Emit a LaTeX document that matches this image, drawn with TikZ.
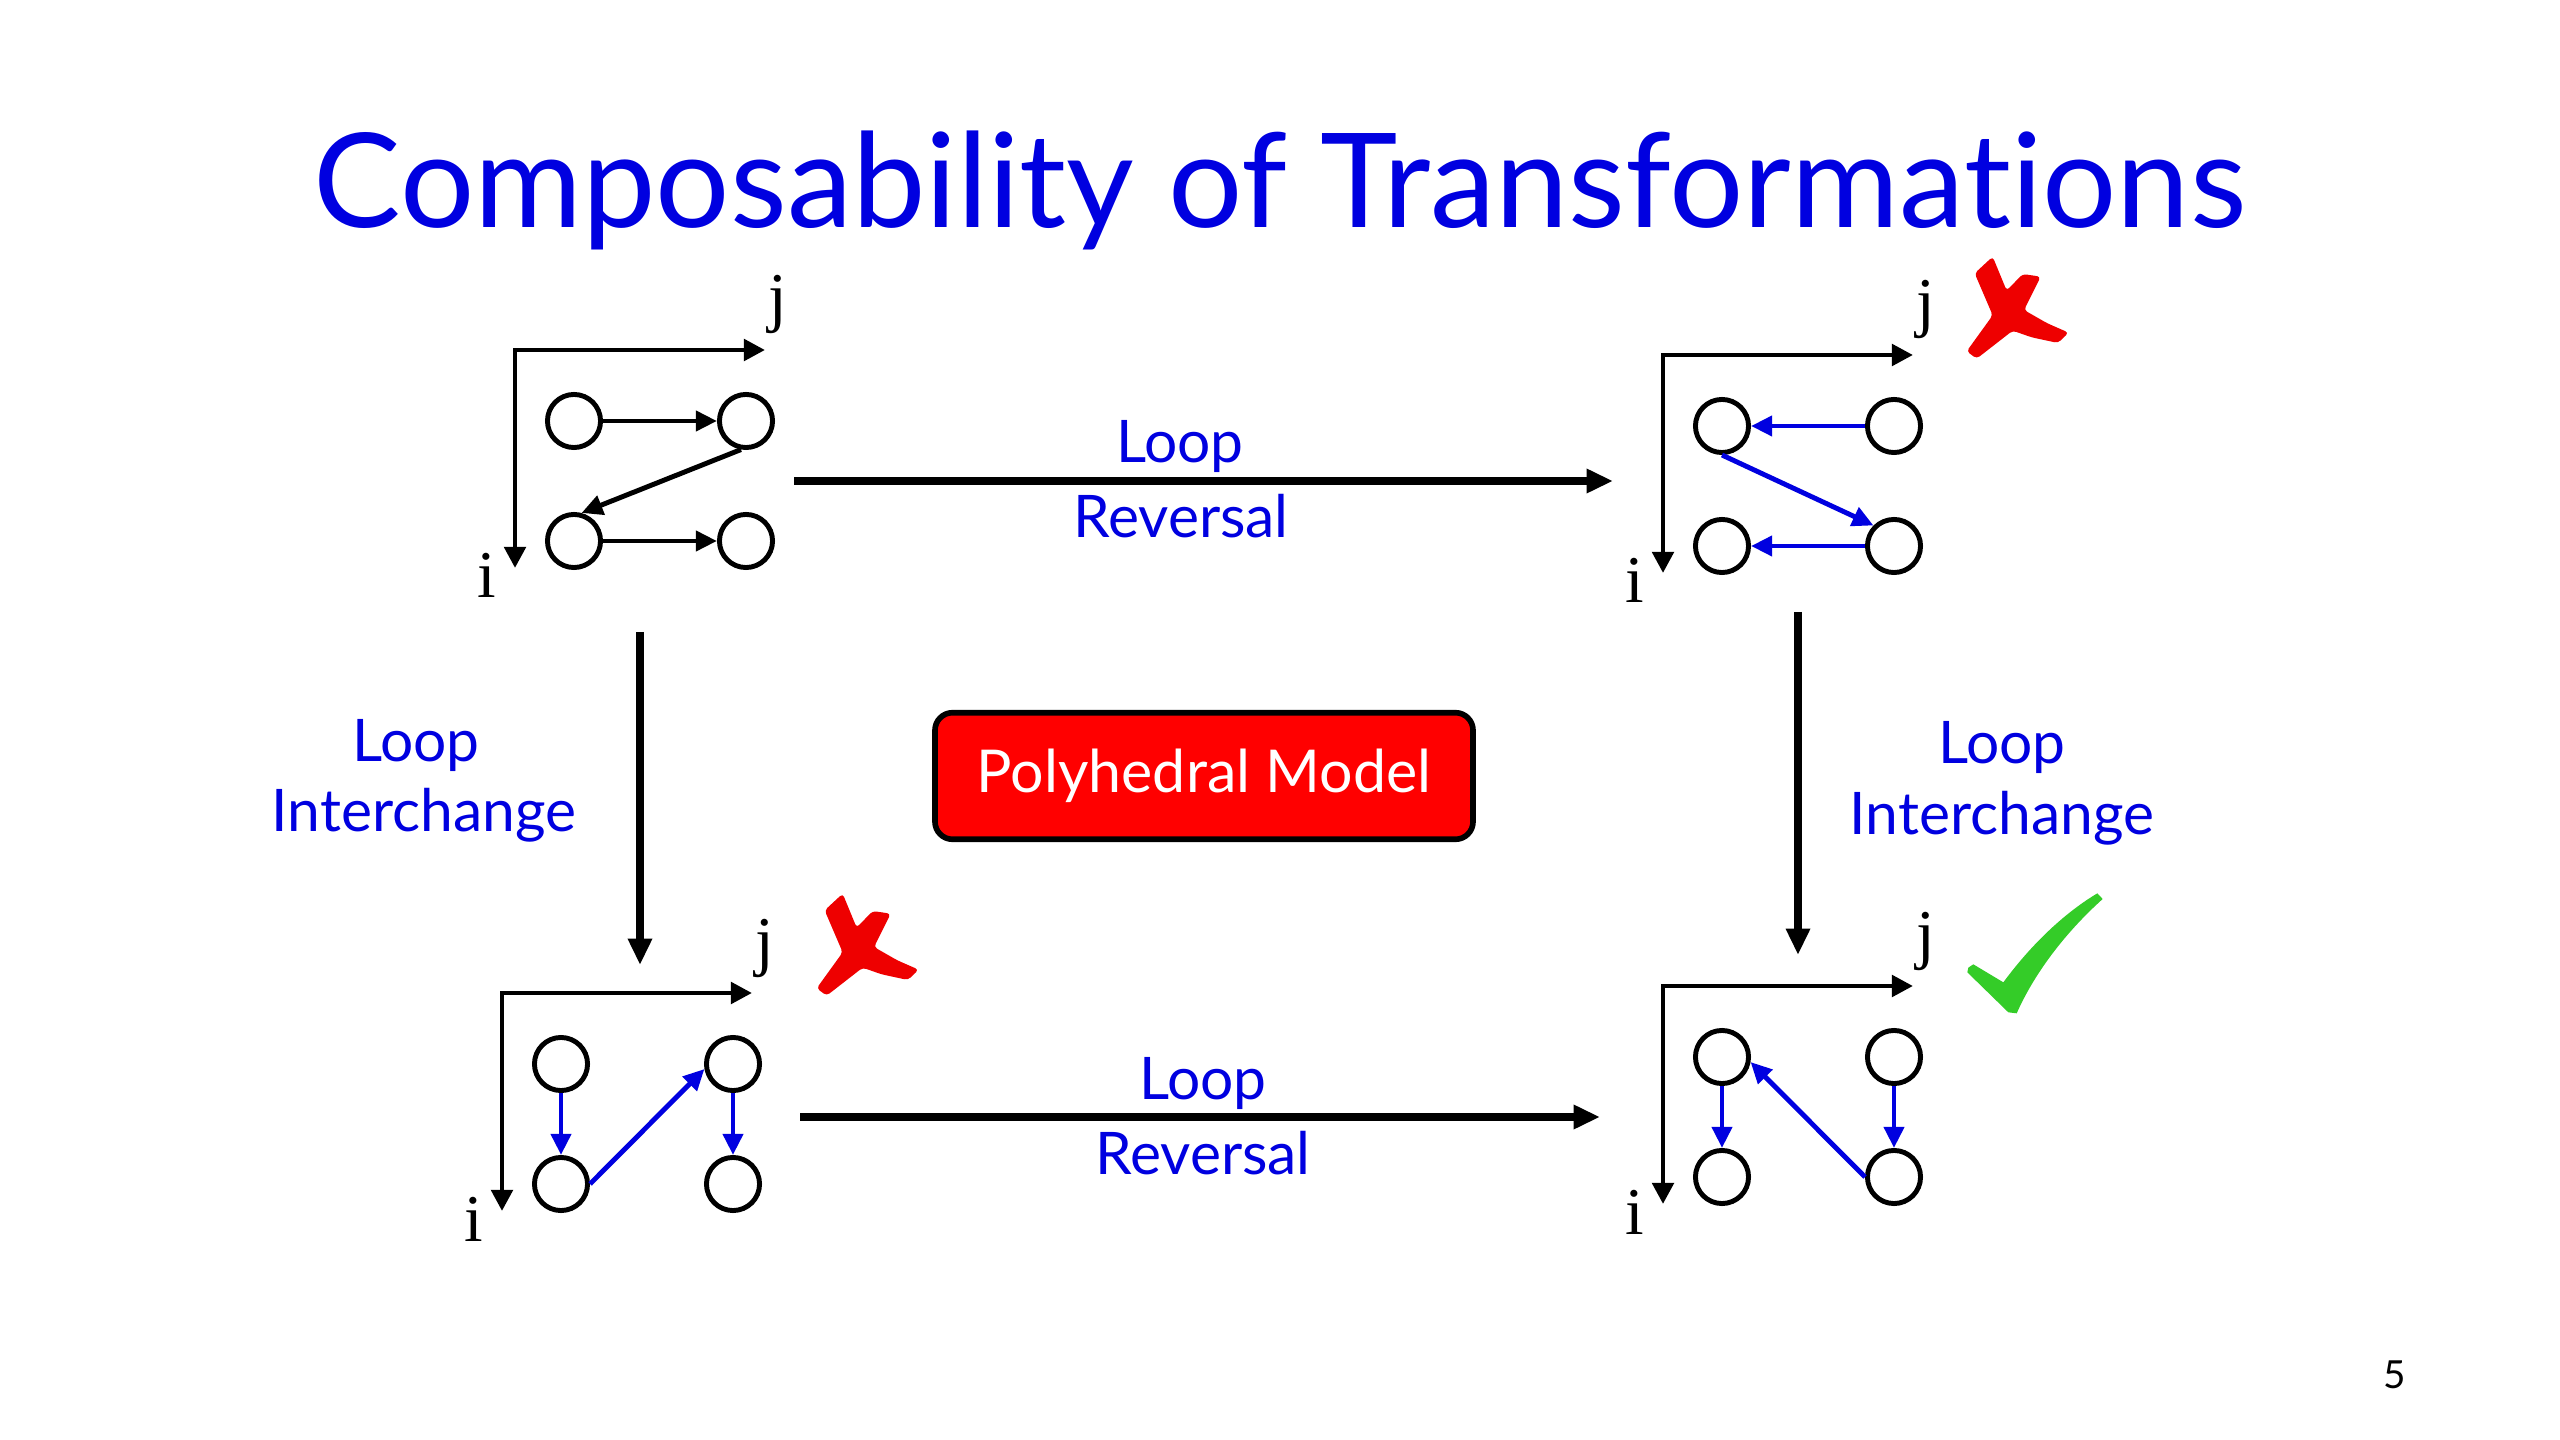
\documentclass[tikz,border=0pt]{standalone}
\usepackage{fontspec}
\setmainfont{Lato}[Ligatures=NoCommon]
\newfontfamily\axisfont{Liberation Serif}
\usetikzlibrary{arrows.meta}
\definecolor{titleblue}{RGB}{0,0,224}
\definecolor{boxred}{RGB}{255,0,0}
\definecolor{markred}{RGB}{238,0,0}
\definecolor{markgreen}{RGB}{52,204,40}

\begin{document}
\begin{tikzpicture}[x=0.01cm,y=-0.01cm,
  stmt/.style={draw,circle,line width=1.4pt,minimum size=15.1pt,inner sep=0pt},
  axis/.style={line width=1.4pt,{Triangle[length=6pt,width=6pt]}-{Triangle[length=6pt,width=6pt]}},
  dep/.style={line width=1.4pt,-{Triangle[length=6pt,width=5.6pt]}},
  bluedep/.style={dep,draw=titleblue},
  trans/.style={line width=2.2pt,-{Triangle[length=7.5pt,width=6.5pt]}},
  lbl/.style={text=titleblue,font=\fontsize{16.7}{20}\selectfont,anchor=base,inner sep=0pt},
  idx/.style={font=\axisfont\fontsize{19}{22}\selectfont,anchor=base,inner sep=0pt}]
\fill[white] (0,0) rectangle (2560,1440);
\useasboundingbox (0,0) rectangle (2560,1440);

\node[anchor=base,inner sep=0pt,text=titleblue,font=\fontsize{37.3}{44}\selectfont] (title) at (1280,228) {Composability of Transformations};

% iteration spaces
\foreach \g/\x/\y in {a/515/350,b/1663/355,c/502/993,d/1663/986}{
  \begin{scope}[shift={(\x,\y)}]
    \draw[axis] (0,218) |- (250,0);
    \node[idx] (\g j) at (263,-30) {j};
    \node[idx] (\g i) at (-28,248) {i};
    \node[stmt] (\g1) at (59,71) {};
    \node[stmt] (\g2) at (231,71) {};
    \node[stmt] (\g3) at (59,191) {};
    \node[stmt] (\g4) at (231,191) {};
  \end{scope}}

% dependences
\draw[dep] (a1) -- (a2);
\draw[dep] (a2.260) -- (a3.75);
\draw[dep] (a3) -- (a4);
\draw[bluedep] (b2) -- (b1);
\draw[bluedep] (b1.south) -- (b4.north west);
\draw[bluedep] (b4) -- (b3);
\foreach \s/\t in {c1/c3,c2/c4,d1/d3,d2/d4} \draw[bluedep] (\s) -- (\t);
\draw[bluedep] (c3.east) -- (c2.190);
\draw[bluedep] (d4.west) -- (d1.350);

% transformations
\coordinate (rev1s) at (794,481);
\coordinate (rev1e) at (1613,481);
\coordinate (rev2s) at (800,1117);
\coordinate (rev2e) at (1600,1117);
\coordinate (int1s) at (640,632);
\coordinate (int1e) at (640,965);
\coordinate (int2s) at (1798,612);
\coordinate (int2e) at (1798,955);
\foreach \s/\t in {rev1s/rev1e,rev2s/rev2e,int1s/int1e,int2s/int2e} \draw[trans] (\s) -- (\t);

\node[lbl] (rev1a) at (1180,463) {Loop};
\node[lbl] (rev1b) at (1181,538) {Reversal};
\node[lbl] (rev2a) at (1203,1099) {Loop};
\node[lbl] (rev2b) at (1203,1174) {Reversal};
\node[lbl] (int1a) at (416,762) {Loop};
\node[lbl] (int1b) at (424,832) {Interchange};
\node[lbl] (int2a) at (2002,764) {Loop};
\node[lbl] (int2b) at (2002,834) {Interchange};

\node[draw=black,fill=boxred,line width=1.6pt,rounded corners=5pt,minimum width=153pt,minimum height=36pt,
  text=white,font=\fontsize{16.8}{20}\selectfont] (model) at (1204,776) {Polyhedral Model};

% marks
\foreach \ox/\oy in {1960/250,810/887}
  \fill[markred,rounded corners=1pt,shift={(\ox,\oy)},scale=1/3] (44,70) -- (98,20) -- (140,122) -- (188,72) -- (242,80)
    -- (192,180) -- (262,220) -- (326,248) -- (294,279) -- (215,262) -- (158,242) -- (50,326) -- (20,304) -- (98,196) -- cycle;
\fill[markgreen,shift={(1960,885)},scale=1/3] (25,248) -- (40,238) -- (130,292) .. controls (220,170) and (320,80) .. (412,25)
  -- (428,42) .. controls (330,130) and (230,250) .. (170,385) -- (145,382) -- (22,262) -- cycle;

\node[anchor=base,inner sep=0pt,font=\fontsize{11}{13}\selectfont] (pagenum) at (2395,1388) {5};
\end{tikzpicture}
\end{document}
